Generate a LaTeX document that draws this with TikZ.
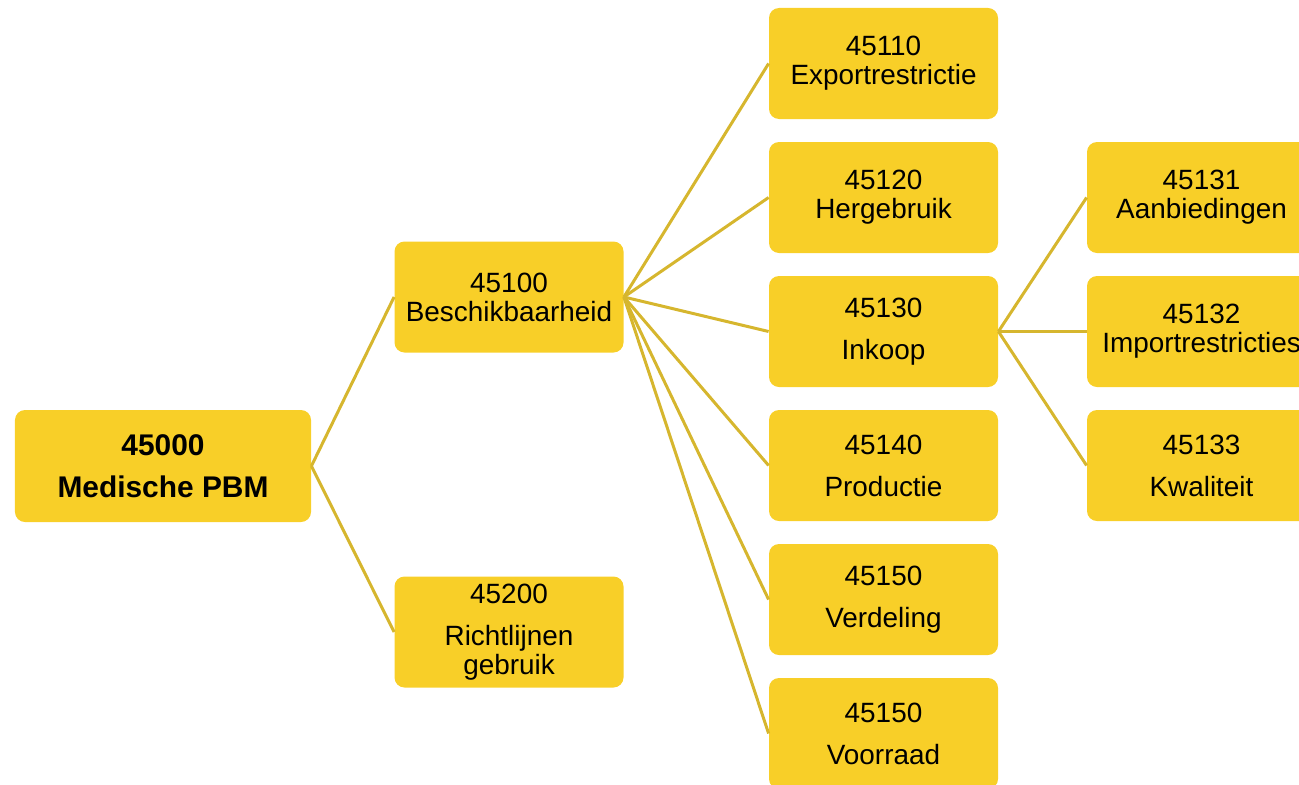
\documentclass[tikz,border=0pt]{standalone}
\usepackage{fontspec}
\setmainfont{Liberation Sans}

\definecolor{cardfill}{RGB}{248,207,40}
\definecolor{linkcolor}{RGB}{214,182,46}

\begin{document}
\begin{tikzpicture}[x=0.5bp,y=-0.5bp]

    \tikzset{
      card/.style={fill=cardfill, rounded corners=5bp, inner sep=0pt,
        minimum width=114.5bp, minimum height=55.5bp, align=center,
        font=\fontsize{14}{14.5}\selectfont},
      rootcard/.style={card, minimum width=148bp, minimum height=56bp,
        font=\fontsize{15}{15}\selectfont\bfseries},
      link/.style={draw=linkcolor, line width=1.5bp}
    }

    \useasboundingbox (0,0) rectangle (1299,784);

    % root and first level
    \node[rootcard] (root) at (163,466) {45000\\[6bp]Medische PBM};
    \node[card] (beschikbaar) at (509,297) {45100\\Beschikbaarheid};
    \node[card] (richtlijnen) at (509,632) {45200\\[6.5bp]Richtlijnen\\gebruik};

    % second level
    \node[card] (export) at (883.5,63.5) {45110\\Exportrestrictie};
    \node[card] (hergebruik) at (883.5,197.5) {45120\\Hergebruik};
    \node[card] (inkoop) at (883.5,331.5) {45130\\[6.5bp]Inkoop};
    \node[card] (productie) at (883.5,465.5) {45140\\[6.5bp]Productie};
    \node[card] (verdeling) at (883.5,599.5) {45150\\[6.5bp]Verdeling};
    \node[card] (voorraad) at (883.5,733.5) {45150\\[6.5bp]Voorraad};

    % third level
    \node[card] (aanbod) at (1201.5,197.5) {45131\\Aanbiedingen};
    \node[card] (import) at (1201.5,331.5) {45132\\Importrestricties};
    \node[card] (kwaliteit) at (1201.5,465.5) {45133\\[6.5bp]Kwaliteit};

    \draw[link] (root.east) -- (beschikbaar.west);
    \draw[link] (root.east) -- (richtlijnen.west);

    \draw[link] (beschikbaar.east) -- (export.west);
    \draw[link] (beschikbaar.east) -- (hergebruik.west);
    \draw[link] (beschikbaar.east) -- (inkoop.west);
    \draw[link] (beschikbaar.east) -- (productie.west);
    \draw[link] (beschikbaar.east) -- (verdeling.west);
    \draw[link] (beschikbaar.east) -- (voorraad.west);

    \draw[link] (inkoop.east) -- (aanbod.west);
    \draw[link] (inkoop.east) -- (import.west);
    \draw[link] (inkoop.east) -- (kwaliteit.west);

\end{tikzpicture}
\end{document}
